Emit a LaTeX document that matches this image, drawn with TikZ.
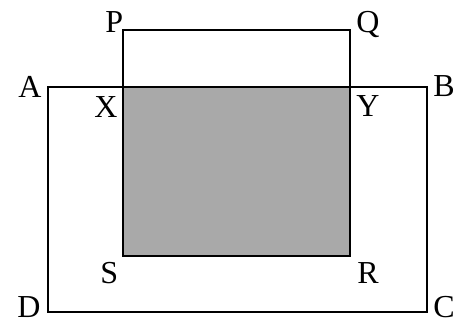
\documentclass[tikz,border=0pt]{standalone}
\usepackage{fontspec}
\setmainfont{Liberation Serif}
\begin{document}
\begin{tikzpicture}[x=0.75pt,y=-0.75pt,
  lbl/.style={anchor=base west,inner sep=0pt,text depth=0pt,font=\fontsize{24}{24}\selectfont},
  edge/.style={draw=black,line width=1.2pt}]
\useasboundingbox (0,0) rectangle (459,322);
\coordinate (cA) at (48,87);
\coordinate (cB) at (427,87);
\coordinate (cC) at (427,312);
\coordinate (cD) at (48,312);
\coordinate (cP) at (123,30);
\coordinate (cQ) at (350,30);
\coordinate (cR) at (350,256);
\coordinate (cS) at (123,256);
\coordinate (cX) at (123,87);
\coordinate (cY) at (350,87);
\fill[fill={rgb,255:red,169;green,169;blue,169}] (cX) rectangle (cR);
\draw[edge] (cA) -- (cB) -- (cC) -- (cD) -- cycle;
\draw[edge] (cP) -- (cQ) -- (cR) -- (cS) -- cycle;
\node[lbl] (P) at (105,32) {P};
\node[lbl] (Q) at (356,32) {Q};
\node[lbl] (A) at (18,97) {A};
\node[lbl] (B) at (433,96) {B};
\node[lbl] (X) at (94,117) {X};
\node[lbl] (Y) at (356,116) {Y};
\node[lbl] (S) at (100,283) {S};
\node[lbl] (R) at (357,283) {R};
\node[lbl] (D) at (17,317) {D};
\node[lbl] (C) at (433,317) {C};
\end{tikzpicture}
\end{document}
